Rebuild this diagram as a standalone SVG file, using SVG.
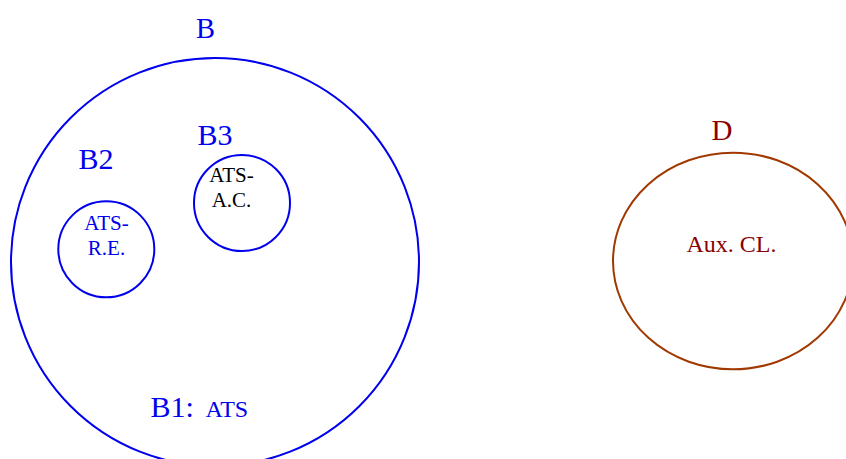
<svg xmlns="http://www.w3.org/2000/svg" width="846" height="459" viewBox="0 0 846 459">
<style>
text{font-family:"Liberation Serif","Times New Roman",serif;}
.blue{fill:#0000ee;}
.red{fill:#880000;}
.c{fill:none;stroke:#0000ee;stroke-width:2;}
.e{fill:none;stroke:#a03800;stroke-width:2;}
.big{font-size:30px;}
.sm{font-size:21px;text-anchor:middle;}
</style>
<rect width="846" height="459" fill="#ffffff"/>
<g id="B">
<circle class="c" cx="215" cy="262" r="204"/>
<text class="blue" x="205.5" y="38" font-size="28.5" text-anchor="middle">B</text>
<text class="blue" x="150.5" y="417"><tspan font-size="30">B1:</tspan><tspan x="205.5" font-size="24">ATS</tspan></text>
</g>
<g id="B2">
<circle class="c" cx="106.3" cy="249.3" r="48"/>
<text class="blue big" x="78.5" y="168.5">B2</text>
<text class="blue sm" x="106.5" y="230">ATS-</text>
<text class="blue sm" x="106.5" y="255">R.E.</text>
</g>
<g id="B3">
<circle class="c" cx="242" cy="203" r="48"/>
<text class="blue big" x="197.5" y="145">B3</text>
<text class="sm" x="231.5" y="181.7" fill="#000000">ATS-</text>
<text class="sm" x="231.5" y="206.7" fill="#000000">A.C.</text>
</g>
<g id="D">
<ellipse class="e" cx="733" cy="261" rx="120" ry="108.3"/>
<text class="red" x="722" y="139.5" font-size="29" text-anchor="middle">D</text>
<text class="red" x="731.5" y="251.7" font-size="24" text-anchor="middle">Aux. CL.</text>
</g>
<g id="connectors"></g>
</svg>
